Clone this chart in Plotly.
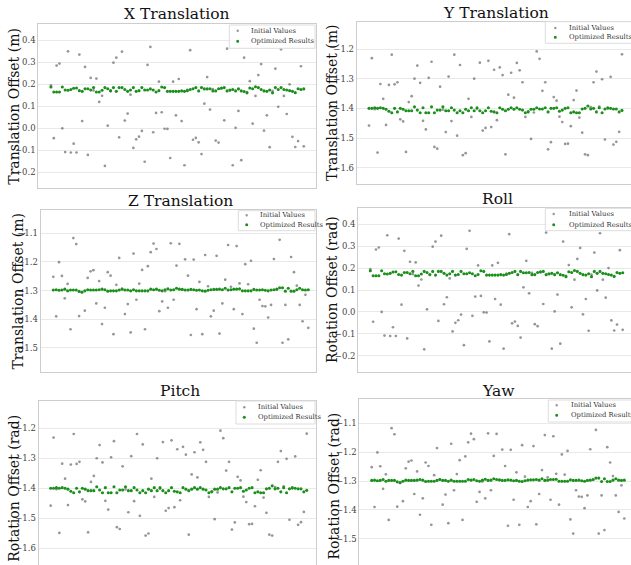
import plotly.graph_objects as go

W, H = 631, 565

sample_index = list(range(90))

x_initial = [0.195, -0.045, 0.285, 0.294, 0.0, -0.108, 0.35, -0.11, -0.07, -0.11,
             0.335, 0.033, 0.279, -0.121, 0.229, 0.172, 0.226, 0.12, 0.148, -0.171,
             0.012, 0.168, 0.298, 0.321, -0.041, 0.348, 0.035, 0.067, 0.153, -0.089,
             -0.05, -0.038, -0.012, -0.152, 0.288, 0.37, -0.018, 0.07, 0.212, 0.073,
             -0.002, -0.003, -0.135, 0.212, 0.059, 0.224, 0.033, -0.168, 0.175, 0.355,
             -0.052, -0.044, -0.064, -0.117, 0.112, 0.233, 0.085, 0.178, -0.056, -0.065,
             0.18, 0.036, 0.362, 0.172, -0.168, 0.002, 0.079, -0.145, 0.321, 0.165,
             0.214, 0.021, 0.147, 0.242, 0.292, -0.011, 0.059, -0.086, 0.17, 0.271,
             0.098, 0.359, 0.147, 0.065, 0.2, -0.039, -0.085, -0.058, 0.282, -0.082]
x_optimized = [0.188, 0.165, 0.165, 0.165, 0.188, 0.174, 0.173, 0.176, 0.182, 0.183,
               0.171, 0.168, 0.180, 0.180, 0.174, 0.185, 0.165, 0.165, 0.173, 0.185,
               0.180, 0.171, 0.185, 0.168, 0.185, 0.185, 0.176, 0.168, 0.174, 0.185,
               0.168, 0.171, 0.185, 0.174, 0.174, 0.179, 0.174, 0.165, 0.171, 0.188,
               0.185, 0.168, 0.168, 0.168, 0.168, 0.168, 0.170, 0.168, 0.171, 0.176,
               0.180, 0.185, 0.170, 0.185, 0.179, 0.179, 0.180, 0.170, 0.170, 0.180,
               0.183, 0.185, 0.170, 0.174, 0.176, 0.170, 0.179, 0.170, 0.167, 0.161,
               0.183, 0.180, 0.189, 0.185, 0.176, 0.170, 0.168, 0.174, 0.161, 0.185,
               0.176, 0.185, 0.176, 0.174, 0.171, 0.168, 0.162, 0.180, 0.176, 0.179]

y_initial = [-1.458, -1.231, -1.403, -1.549, -1.318, -1.368, -1.456, -1.321, -1.219, -1.319,
             -1.312, -1.437, -1.444, -1.547, -1.379, -1.359, -1.300, -1.256, -1.314, -1.442,
             -1.471, -1.297, -1.243, -1.530, -1.536, -1.327, -1.404, -1.480, -1.293, -1.443,
             -1.219, -1.492, -1.254, -1.558, -1.551, -1.368, -1.429, -1.300, -1.402, -1.246,
             -1.475, -1.466, -1.240, -1.463, -1.270, -1.440, -1.262, -1.288, -1.555, -1.354,
             -1.280, -1.364, -1.247, -1.272, -1.312, -1.429, -1.410, -1.503, -1.414, -1.208,
             -1.233, -1.341, -1.312, -1.538, -1.514, -1.362, -1.374, -1.428, -1.446, -1.520,
             -1.519, -1.460, -1.372, -1.340, -1.431, -1.482, -1.555, -1.558, -1.396, -1.312,
             -1.276, -1.394, -1.302, -1.505, -1.401, -1.294, -1.522, -1.513, -1.479, -1.218]
y_optimized = [-1.400, -1.400, -1.398, -1.400, -1.398, -1.400, -1.403, -1.410, -1.415, -1.400,
               -1.412, -1.400, -1.403, -1.408, -1.408, -1.408, -1.395, -1.406, -1.415, -1.398,
               -1.415, -1.415, -1.395, -1.415, -1.406, -1.406, -1.395, -1.408, -1.408, -1.398,
               -1.406, -1.415, -1.408, -1.415, -1.403, -1.408, -1.398, -1.408, -1.398, -1.408,
               -1.415, -1.408, -1.398, -1.410, -1.412, -1.415, -1.398, -1.403, -1.408, -1.403,
               -1.398, -1.403, -1.398, -1.403, -1.406, -1.415, -1.412, -1.403, -1.403, -1.398,
               -1.402, -1.402, -1.398, -1.412, -1.400, -1.400, -1.398, -1.410, -1.406, -1.400,
               -1.398, -1.415, -1.412, -1.415, -1.415, -1.402, -1.400, -1.392, -1.402, -1.400,
               -1.412, -1.398, -1.415, -1.402, -1.398, -1.400, -1.402, -1.402, -1.412, -1.407]

z_initial = [-1.252, -1.390, -1.201, -1.249, -1.327, -1.277, -1.435, -1.117, -1.138, -1.389,
             -1.305, -1.370, -1.256, -1.233, -1.229, -1.345, -1.267, -1.417, -1.360, -1.236,
             -1.248, -1.452, -1.280, -1.186, -1.294, -1.382, -1.347, -1.446, -1.171, -1.332,
             -1.276, -1.228, -1.435, -1.215, -1.166, -1.136, -1.155, -1.372, -1.338, -1.302,
             -1.360, -1.135, -1.332, -1.213, -1.137, -1.297, -1.191, -1.248, -1.455, -1.192,
             -1.365, -1.270, -1.452, -1.176, -1.285, -1.390, -1.370, -1.179, -1.450, -1.345,
             -1.262, -1.141, -1.287, -1.365, -1.145, -1.275, -1.382, -1.208, -1.278, -1.196,
             -1.433, -1.482, -1.332, -1.354, -1.355, -1.394, -1.350, -1.190, -1.296, -1.123,
             -1.482, -1.350, -1.470, -1.183, -1.236, -1.283, -1.350, -1.407, -1.315, -1.430]
z_optimized = [-1.298, -1.297, -1.299, -1.298, -1.295, -1.301, -1.298, -1.298, -1.298, -1.303,
               -1.306, -1.301, -1.297, -1.298, -1.298, -1.298, -1.297, -1.295, -1.297, -1.302,
               -1.301, -1.301, -1.301, -1.298, -1.295, -1.298, -1.298, -1.301, -1.297, -1.301,
               -1.301, -1.301, -1.301, -1.301, -1.295, -1.297, -1.295, -1.299, -1.301, -1.297,
               -1.294, -1.298, -1.297, -1.292, -1.295, -1.296, -1.298, -1.298, -1.296, -1.297,
               -1.299, -1.298, -1.301, -1.302, -1.299, -1.297, -1.296, -1.296, -1.295, -1.297,
               -1.292, -1.298, -1.297, -1.295, -1.295, -1.294, -1.301, -1.301, -1.301, -1.301,
               -1.296, -1.298, -1.298, -1.297, -1.299, -1.301, -1.298, -1.297, -1.295, -1.290,
               -1.290, -1.302, -1.292, -1.302, -1.302, -1.297, -1.292, -1.297, -1.298, -1.297]

# the rotation panels in the reference show the very same values as the translation panels
roll_initial = list(x_initial)
roll_optimized = list(x_optimized)
pitch_initial = list(y_initial)
pitch_optimized = list(y_optimized)
yaw_initial = list(z_initial)
yaw_optimized = list(z_optimized)

# y tick values and their labels
ticks_x = [0.4, 0.3, 0.2, 0.1, 0.0, -0.1, -0.2]
ticklabels_x = ["0.4", "0.3", "0.2", "0.1", "0.0", "\u22120.1", "\u22120.2"]
ticks_y = [-1.2, -1.3, -1.4, -1.5, -1.6]
ticklabels_y = ["\u22121.2", "\u22121.3", "\u22121.4", "\u22121.5", "\u22121.6"]
ticks_z = [-1.1, -1.2, -1.3, -1.4, -1.5]
ticklabels_z = ["\u22121.1", "\u22121.2", "\u22121.3", "\u22121.4", "\u22121.5"]

titles = ["X Translation", "Y Translation", "Z Translation", "Roll", "Pitch", "Yaw"]
ylabels = ["Translation Offset (m)"] * 3 + ["Rotation Offset (rad)"] * 3
legend_labels = ["Initial Values", "Optimized Results"]
initial_series = [x_initial, y_initial, z_initial, roll_initial, pitch_initial, yaw_initial]
optimized_series = [x_optimized, y_optimized, z_optimized, roll_optimized, pitch_optimized, yaw_optimized]
tick_sets = [(ticks_x, ticklabels_x), (ticks_y, ticklabels_y), (ticks_z, ticklabels_z),
             (ticks_x, ticklabels_x), (ticks_y, ticklabels_y), (ticks_z, ticklabels_z)]

# layout geometry in pixels (order: X, Y, Z, Roll, Pitch, Yaw)
panels = [
    dict(box=(38.3, 316.0, 24.0, 187.7), xr=(-4.45, 93.3), yr=(-0.27, 0.474), col=0, bottom_clip=False,
         title=(177, 14.2), ylab=(13.7, 106), leg=(229.3, 315, 25.0, 48.3, 237.7, 249.3, 30.7, 41.3)),
    dict(box=(356.7, 631.0, 22.3, 184.0), xr=(-4.33, 92.17), yr=(-1.655, -1.11), col=1, bottom_clip=False,
         title=(496, 13.3), ylab=(332, 103), leg=(545.3, 640, 21.7, 43.3, 555.3, 566.7, 28.0, 37.3)),
    dict(box=(40.5, 316.0, 210.0, 371.7), xr=(-4.47, 91.69), yr=(-1.583, -1.019), col=0, bottom_clip=False,
         title=(180.5, 201.2), ylab=(17.5, 291), leg=(238.3, 315, 210.7, 230.7, 246.7, 258.3, 215.3, 224.7)),
    dict(box=(358.2, 631.0, 208.3, 371.7), xr=(-4.27, 91.93), yr=(-0.273, 0.473), col=1, bottom_clip=False,
         title=(497, 199.2), ylab=(332, 290), leg=(545.3, 640, 208.3, 230.7, 553.7, 566.7, 214.0, 224.7)),
    dict(box=(38.5, 316.0, 401.0, 565.0), xr=(-4.24, 92.23), yr=(-1.656, -1.109), col=0, bottom_clip=True,
         title=(180, 391.2), ylab=(13.7, 488), leg=(236.0, 315, 401.0, 424.0, 244.3, 256.0, 407.3, 417.3)),
    dict(box=(359.3, 631.0, 399.3, 565.0), xr=(-4.37, 91.36), yr=(-1.591, -1.017), col=1, bottom_clip=True,
         title=(498.3, 391.4), ylab=(333.5, 486), leg=(548.3, 640, 400.0, 422.0, 556.7, 568.7, 405.3, 415.3)),
]

SERIF = "DejaVu Serif"
GRAY = "rgba(115,115,115,0.75)"
GREEN = "#1a901a"
BORDER = "#cdcdcd"
GRID = "#e9e9e9"


def px(x):
    return x / W


def py(y):
    return 1 - y / H


fig = go.Figure()
annotations = []
shapes = []
layout_axes = {}

for i, p in enumerate(panels):
    n = "" if i == 0 else str(i + 1)
    xa, ya = "x" + n, "y" + n
    fig.add_trace(go.Scatter(x=sample_index, y=initial_series[i], mode="markers", name=legend_labels[0],
                             marker=dict(size=2.7, color=GRAY, line=dict(width=0)),
                             xaxis=xa, yaxis=ya, showlegend=False, hoverinfo="skip"))
    fig.add_trace(go.Scatter(x=sample_index, y=optimized_series[i], mode="markers", name=legend_labels[1],
                             marker=dict(size=3.1, color=GREEN, symbol="circle", line=dict(width=0)),
                             xaxis=xa, yaxis=ya, showlegend=False, hoverinfo="skip"))
    l, r, t, b = p["box"]
    tv, tt = tick_sets[i]
    layout_axes["xaxis" + n] = dict(
        domain=[px(l), px(r)], range=list(p["xr"]), anchor=ya,
        showgrid=False, showticklabels=False, zeroline=False, ticks="",
        showline=True, linecolor=BORDER, linewidth=1,
        mirror=not p["bottom_clip"], side="top" if p["bottom_clip"] else "bottom")
    layout_axes["yaxis" + n] = dict(
        domain=[max(0.0, py(b)), py(t)], range=list(p["yr"]), anchor=xa,
        showgrid=True, gridcolor=GRID, gridwidth=1, zeroline=False, ticks="",
        tickmode="array", tickvals=tv, ticktext=tt,
        tickfont=dict(family=SERIF, size=8.5, color="#444444"),
        showline=True, linecolor=BORDER, linewidth=1, mirror=(p["col"] == 0))

    tx, ty = p["title"]
    annotations.append(dict(text=titles[i], x=px(tx), y=py(ty), xref="paper", yref="paper",
                            xanchor="center", yanchor="middle", showarrow=False,
                            font=dict(family=SERIF, size=15.5, color="#111111")))
    lx, ly = p["ylab"]
    annotations.append(dict(text=ylabels[i], x=px(lx), y=py(ly), xref="paper", yref="paper",
                            xanchor="center", yanchor="middle", showarrow=False, textangle=-90,
                            font=dict(family=SERIF, size=14, color="#111111")))

    bl, br, bt, bb, mx, txl, r1, r2 = p["leg"]
    shapes.append(dict(type="rect", xref="paper", yref="paper", x0=px(bl), x1=px(br), y0=py(bb), y1=py(bt),
                       fillcolor="rgba(255,255,255,0.85)", line=dict(color="#dddddd", width=1), layer="above"))
    for row_y, col, rad in ((r1, GRAY, 1.2), (r2, GREEN, 1.5)):
        shapes.append(dict(type="circle", xref="paper", yref="paper",
                           x0=px(mx - rad), x1=px(mx + rad), y0=py(row_y + rad), y1=py(row_y - rad),
                           fillcolor=col, line=dict(width=0), layer="above"))
    for row_y, label in ((r1, legend_labels[0]), (r2, legend_labels[1])):
        annotations.append(dict(text=label, x=px(txl), y=py(row_y), xref="paper", yref="paper",
                                xanchor="left", yanchor="middle", showarrow=False,
                                font=dict(family=SERIF, size=6.8, color="#333333")))

fig.update_layout(
    width=W, height=H, margin=dict(l=0, r=0, t=0, b=0),
    paper_bgcolor="white", plot_bgcolor="white", showlegend=False,
    annotations=annotations, shapes=shapes, **layout_axes)

fig.write_html("out.html")
